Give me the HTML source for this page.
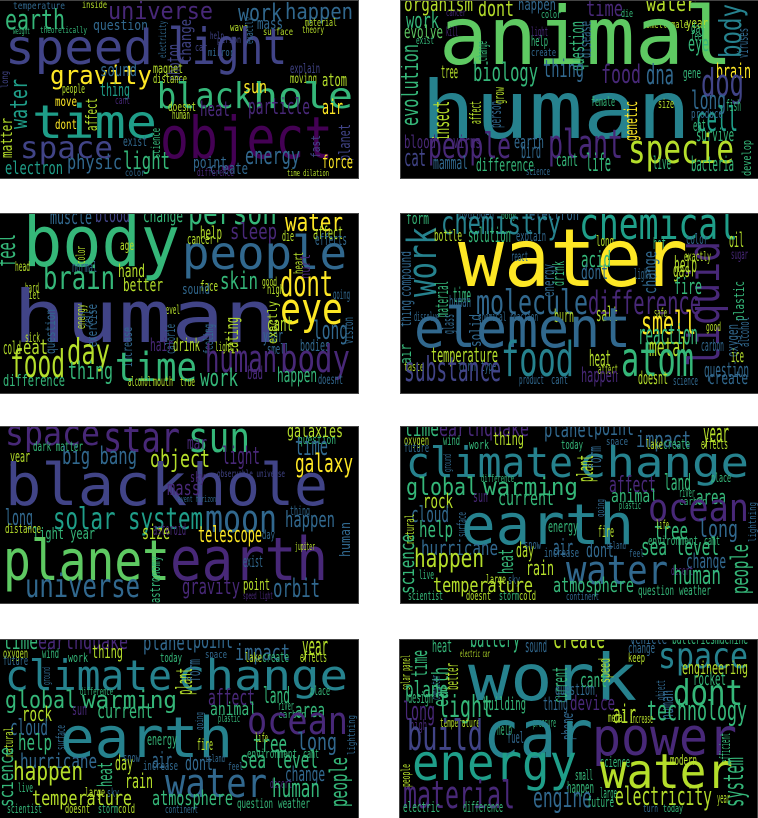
<!DOCTYPE html>
<html><head><meta charset="utf-8">
<style>
html,body{margin:0;padding:0;background:#fff;width:758px;height:818px;overflow:hidden}
svg.cloud{position:absolute;background:#000;outline:1px solid #444}
text{font-family:"DejaVu Sans Mono","Liberation Mono",monospace}
</style></head>
<body>
<svg class="cloud" id="p1" style="left:0;top:1px" width="358" height="177" viewBox="0 0 358 177"></svg>
<svg class="cloud" id="p2" style="left:401px;top:1px" width="357" height="177" viewBox="0 0 357 177"></svg>
<svg class="cloud" id="p3" style="left:0;top:214px" width="358" height="179" viewBox="0 0 358 179"></svg>
<svg class="cloud" id="p4" style="left:401px;top:214px" width="357" height="179" viewBox="0 0 357 179"></svg>
<svg class="cloud" id="p5" style="left:0;top:427px" width="358" height="176" viewBox="0 0 358 176"></svg>
<svg class="cloud" id="p6" style="left:401px;top:427px" width="357" height="176" viewBox="0 0 357 176"></svg>
<svg class="cloud" id="p7" style="left:0;top:640px" width="358" height="178" viewBox="0 0 358 178"></svg>
<svg class="cloud" id="p8" style="left:400px;top:640px" width="357" height="178" viewBox="0 0 357 178"></svg>
<script>
const palette = {P:"#440154",p:"#482878",i:"#414487",b:"#31688e",t:"#26828e",g:"#1f9e89",G:"#35b779",l:"#5ec962",y:"#b5de2b",Y:"#fde725"};
// [word, x, baseline, width, size, colourKey, vertical]
const words1 = [
["temperature",13,8,52,10,"b"],["inside",82,7,25,10,"y"],["earth",5,28,60,28,"G"],["universe",108,18,105,24,"p"],
["work",238,20,44,24,"b"],["happen",285,18,68,22,"b"],["question",93,29,55,14,"b"],["mass",257,28,26,16,"b"],
["weight",13,33,17,9,"G"],["theoretically",40,32,47,9,"G"],["material",305,25,32,11,"y"],["wave",230,30,18,11,"y"],
["surface",263,34,30,10,"y"],["theory",302,32,22,10,"y"],["help",210,38,14,10,"i"],["person",217,42,24,10,"i"],["car",195,50,12,11,"i"],["mirror",208,55,26,11,"b"],
["speed",5,63,148,48,"i"],["light",168,63,119,50,"i"],["change",191,62,44,16,"i",1],["photon",180,80,37,18,"i",1],
["electricity",166,57,37,10,"b",1],["exactly",253,43,27,11,"b",1],
["gravity",50,83,102,26,"Y"],["sound",100,75,37,18,"b"],["thing",100,95,30,18,"g"],["magnet",153,72,30,13,"y"],["distance",153,82,34,12,"y"],
["explain",290,72,30,13,"i"],["moving",290,82,27,13,"y"],["atom",322,85,25,18,"y"],["black",157,107,96,36,"G"],["hole",253,107,100,36,"G"],
["sun",243,92,24,18,"Y"],["people",62,92,23,12,"y"],["cant",115,103,15,11,"p"],["move",55,105,22,13,"Y"],["water",27,128,50,24,"g",1],
["long",8,87,17,10,"i",1],["heat",200,115,30,20,"p"],["particle",248,113,62,22,"p"],["air",322,113,21,20,"Y"],["doesnt",168,110,28,12,"y"],
["human",172,118,18,12,"y"],["time",32,137,125,46,"g"],["affect",97,130,33,16,"y",1],["dont",55,128,22,13,"Y"],["matter",12,157,40,16,"y",1],
["object",160,157,173,58,"P"],["exist",123,145,24,13,"b"],["science",160,157,30,12,"G",1],["fast",320,157,23,12,"i",1],["planet",350,160,37,16,"i",1],
["space",20,157,93,30,"i"],["physic",67,168,55,20,"b"],["light",123,168,47,24,"G"],["energy",245,163,55,24,"b"],["point",193,167,34,16,"b"],
["force",322,167,31,18,"Y"],["electron",5,173,58,18,"g"],["create",210,173,38,16,"b"],["difference",197,175,37,11,"p"],["color",125,175,20,10,"b"],["time dilation",287,175,42,9,"y"]
];
const words2 = [
["organism",3,10,69,20,"y"],["dont",77,15,36,22,"y"],["happen",117,9,38,16,"b"],["time",185,15,37,22,"p"],["water",245,10,50,22,"y"],
["cancer",45,15,20,10,"p"],["color",140,17,20,11,"G"],["smell male",245,27,42,11,"y"],["die",220,16,12,11,"G"],
["animal",38,63,294,80,"l"],["body",340,57,54,30,"t",1],["viruses",347,57,30,14,"b",1],["work",5,27,33,22,"G"],["evolve",3,37,39,18,"l"],
["kill",45,35,12,12,"p"],["exist",15,43,18,11,"G"],["year",285,27,22,14,"y"],["day",290,32,14,14,"G"],["feel",290,40,14,14,"G"],
["help",130,45,17,14,"G"],["light",130,35,17,12,"p"],["create",130,55,25,11,"b"],["eye",287,50,21,22,"G"],["question",183,70,50,20,"G",1],
["disease",190,57,37,16,"b",1],["change",86,60,20,14,"G",1],["biology",72,80,65,26,"G"],["thing",142,76,41,24,"b"],["food",200,82,40,26,"p"],
["dna",245,83,28,28,"b"],["brain",315,77,35,20,"Y"],["gene",282,77,18,14,"G"],["tree",40,77,17,18,"y"],["evolution",17,125,82,24,"G",1],
["dog",300,95,43,38,"i"],["long",290,108,35,26,"b"],["human",20,137,270,80,"t"],["cell",295,130,42,34,"g"],["fish",325,110,15,16,"G"],
["insect",48,140,40,22,"y",1],["affect",80,123,23,16,"y",1],["person",100,127,27,16,"b",1],["grow",103,103,17,14,"y",1],["genetic",236,140,40,18,"Y",1],
["female",190,105,24,12,"G"],["size",257,107,16,12,"y"],["produce",290,117,32,12,"b"],["survive",295,140,38,18,"G"],["eat",292,130,13,16,"G"],
["blood",3,147,32,18,"p"],["virus",52,147,28,18,"p"],["earth",113,147,30,18,"b"],["plant",147,157,75,40,"p"],["people",27,157,83,36,"p"],
["bird",120,157,20,20,"b"],["specie",227,162,106,40,"y"],["cat",3,165,22,24,"i"],["mammal",32,168,35,18,"b"],["difference",75,170,58,18,"G"],
["cant",155,165,22,18,"G"],["life",185,170,25,24,"G"],["live",252,168,18,18,"G"],["bacteria",290,170,43,20,"G"],["science",125,174,24,11,"b"],["develop",350,175,36,12,"G",1]
];
const words3 = [
["muscle",50,10,42,20,"b"],["blood",95,8,35,20,"i"],["change",143,8,40,18,"G"],["person",188,10,89,32,"G"],["water",285,17,58,26,"Y"],
["body",23,52,157,70,"G"],["people",182,55,165,46,"b"],["feel",15,53,33,26,"G",1],["sleep",230,25,47,22,"p"],["help",200,25,22,18,"y"],
["affect",313,25,30,18,"y"],["effects",315,31,32,16,"b"],["cancer",187,30,27,14,"y"],["die",282,27,12,14,"y"],["age",120,36,14,13,"y"],
["color",85,50,18,12,"y",1],["heart",303,60,22,13,"y",1],["hurt",310,65,25,14,"p",1],["head",15,57,15,13,"y"],["normal",72,58,25,14,"b"],
["brain",43,75,72,32,"G"],["hand",118,63,27,18,"y"],["better",123,77,40,18,"y"],["skin",220,75,38,24,"G"],["face",200,77,18,14,"y"],
["dont",280,82,53,36,"Y"],["sound",182,80,28,14,"b"],["high",267,80,17,13,"y"],["good",262,72,15,12,"y"],["going",333,85,17,13,"b"],
["diet",25,85,15,12,"y"],["hard",25,78,14,12,"y"],["level",162,100,18,12,"y"],["human",13,128,264,72,"i"],["eye",280,110,63,44,"Y"],
["long",313,125,35,26,"b"],["cant",267,117,26,20,"y"],["year",263,128,20,18,"b"],["cell",93,113,17,14,"b",1],["exercise",97,133,43,14,"b",1],
["energy",85,115,25,12,"y",1],["exactly",277,130,43,13,"y",1],["vision",353,130,27,13,"b",1],["eating",238,140,37,18,"y",1],["feeling",213,140,30,13,"b",1],
["calorie",175,140,30,13,"b",1],["increase",132,153,40,13,"b",1],["question",55,140,45,13,"b",1],["sick",25,128,15,13,"y"],["smell",267,140,22,14,"b"],
["hair",150,137,23,18,"p"],["drink",173,137,27,18,"y"],["bodies",300,137,30,16,"b"],["eat",23,140,25,20,"y"],["cold",3,140,18,18,"y"],
["day",67,150,43,36,"y"],["time",115,167,82,40,"G"],["food",10,163,55,38,"y"],["thing",68,165,45,24,"G"],["human",205,158,72,38,"p"],
["body",280,158,70,38,"p"],["work",200,172,38,24,"G"],["happen",277,168,40,20,"G"],["bad",247,165,16,18,"p"],["difference",3,172,62,16,"G"],
["alcohol",128,172,23,13,"y"],["mouth",153,172,20,13,"y"],["true",180,172,15,12,"y"],["doesnt",318,170,25,13,"b"],["light",215,137,18,12,"y"]
];
const words4 = [
["form",5,10,23,16,"G"],["hydrogen",58,5,35,14,"b"],["body",100,5,15,11,"G"],["electron",128,6,50,18,"b"],
["chemistry",40,20,120,32,"t"],["chemical",178,25,159,44,"g"],["work",35,83,70,40,"t",1],["bottle",33,27,28,16,"y"],
["solution",67,28,43,20,"G"],["explain",115,27,30,14,"b"],["long",195,32,18,14,"y"],["hot",252,35,13,16,"G"],["color",285,30,22,14,"b"],
["oil",328,33,15,20,"y"],["water",57,72,230,80,"Y"],["liquid",318,153,126,44,"p",1],["react",110,47,17,13,"b"],["exactly",283,47,27,13,"y"],
["sugar",330,45,17,13,"p"],["acid",180,53,30,22,"G"],["compound",10,83,46,16,"b",1],["material",47,103,36,18,"G",1],["energy",153,83,33,16,"b",1],
["drink",163,72,25,16,"G",1],["change",255,80,43,18,"b",1],["help",273,58,23,22,"y"],["gas",272,63,17,20,"y"],["light",233,65,17,14,"b"],
["dont",180,65,27,20,"b"],["fire",273,80,28,22,"G"],["plastic",343,107,40,14,"G",1],["time",52,88,18,20,"G"],["human",48,93,22,16,"b"],
["molecule",75,100,112,34,"b"],["difference",187,100,113,32,"p"],["thing",10,113,27,16,"b",1],["glass",53,120,20,16,"b",1],["solid",80,133,33,16,"b",1],
["dissolve",13,107,25,12,"b"],["chemical reaction",77,107,60,12,"b"],["burn",153,108,20,18,"y"],["salt",195,107,22,20,"y"],["safe",253,103,13,12,"y"],
["smell",240,120,55,32,"Y"],["good",305,117,15,12,"y"],["element",13,133,217,55,"b"],["reaction",237,130,60,28,"G"],["oxygen",337,143,33,16,"b",1],
["alcohol",348,133,30,14,"b",1],["metal",248,142,39,26,"y"],["carbon",300,137,23,16,"b"],["air",10,150,20,16,"G",1],["temperature",30,148,67,20,"y"],
["ice",330,148,13,18,"y"],["taste",3,157,20,12,"y"],["heat",188,152,22,22,"y"],["turn",57,157,18,14,"b"],["type",80,157,15,14,"b"],["affect",197,160,20,13,"y"],
["food",100,162,73,48,"t"],["atom",220,162,73,48,"G"],["question",303,163,45,20,"b"],["substance",3,167,97,34,"i"],["happen",180,168,37,20,"p"],
["product",118,170,25,12,"b"],["cant",150,170,17,12,"b"],["doesnt",237,170,30,18,"y"],["science",272,171,25,12,"b"],["create",307,170,40,18,"b"]
];
const words5 = [
["space",5,18,95,34,"p"],["star",103,25,77,42,"p"],["sun",188,25,62,42,"G"],["galaxies",287,10,56,18,"y"],["question",298,17,38,12,"G"],
["mar",187,22,20,18,"p"],["dark matter",33,24,50,13,"G"],["year",10,35,20,16,"y"],["big bang",62,37,75,24,"b"],["object",150,40,60,24,"y"],
["light",222,37,38,24,"p"],["time",295,28,33,26,"b"],["galaxy",295,45,58,26,"Y"],["black",5,78,182,58,"i"],["hole",192,78,136,58,"i"],
["sky",190,55,15,14,"p"],["observable universe",217,50,68,10,"i"],["mass",167,68,33,20,"p"],["event horizon",178,75,38,9,"b"],
["long",5,98,28,22,"b"],["solar system",53,102,150,30,"g"],["moon",205,105,72,38,"b"],["happen",285,100,50,22,"b"],["human",350,130,35,14,"b",1],
["thing",290,88,20,12,"b"],["distance",5,106,36,12,"y"],["light year",33,112,62,16,"G"],["size",142,112,28,20,"y"],["asteroid",153,108,33,16,"p"],
["telescope",198,115,64,22,"Y"],["planet",3,153,167,56,"l"],["earth",170,153,158,60,"p"],["exist",243,140,20,16,"b"],["astronomy",160,176,47,14,"G",1],
["universe",25,170,115,32,"b"],["gravity",182,167,58,22,"p"],["point",243,163,27,16,"y"],["orbit",273,170,47,26,"b"],["speed light",243,172,30,10,"p"],
["day",262,112,13,12,"b"],["jupiter",295,123,20,11,"y"]
];
const words6 = [
["time",3,9,35,22,"G"],["earthquake",38,9,90,22,"p"],["planet",143,10,50,22,"b"],["point",193,8,40,22,"b"],["impact",235,20,55,22,"b"],
["year",302,15,26,26,"y"],["thing",92,18,31,18,"y"],["oxygen",3,18,25,13,"y"],["wind",42,18,17,13,"G"],["future",3,25,25,12,"b"],["work",68,22,20,12,"G"],
["today",160,22,22,12,"G"],["space",205,18,22,11,"b"],["lake",245,22,17,13,"y"],["create",262,22,27,14,"G"],["effects",300,22,27,14,"y"],
["climate",5,50,167,42,"t"],["change",177,50,171,42,"t"],["plant",192,55,27,22,"y",1],["form",200,42,23,18,"b",1],["ground",50,45,18,11,"b",1],
["global",5,68,72,24,"G"],["warming",82,68,95,24,"G"],["difference",80,55,33,11,"G"],["affect",208,65,47,22,"p"],["land",263,63,27,22,"G"],
["place",310,55,20,12,"G"],["rock",22,81,30,20,"y"],["sun",72,75,15,16,"p"],["current",97,78,56,20,"G"],["animal",210,75,47,18,"G"],
["river",278,70,16,12,"G"],["area",295,77,30,20,"G"],["carbon",278,78,28,11,"G"],["going",203,90,18,11,"b",1],["plastic",218,82,22,11,"G"],
["ocean",247,94,101,38,"p"],["cloud",10,95,38,22,"b"],["surface",65,110,25,12,"b",1],["earth",60,117,173,56,"t"],["help",18,110,34,22,"G"],
["energy",147,105,30,16,"G"],["fire",197,110,16,16,"y"],["tree",253,112,34,24,"G"],["long",297,110,40,24,"b"],["life",255,102,13,12,"y"],
["environment",247,118,50,12,"G"],["cant",303,118,16,12,"G"],["natural",13,117,30,12,"y",1],["lightning",355,115,40,11,"b",1],
["hurricane",20,128,77,20,"b"],["air",152,128,20,22,"b"],["dont",185,130,28,20,"b"],["sea level",240,128,78,24,"G"],["snow",123,122,17,12,"b"],
["increase",143,130,35,12,"b"],["island",205,122,20,11,"b"],["heat",112,147,25,20,"G",1],["day",115,130,18,20,"y"],["feel",228,130,15,11,"b"],
["happen",13,140,70,26,"y"],["people",347,167,50,24,"G",1],["rain",125,148,28,20,"y"],["change",285,141,40,20,"b"],["science",13,167,60,20,"G",1],
["live",18,152,15,12,"G"],["large",85,157,20,13,"y"],["sky",107,157,12,12,"b"],["desert",270,148,22,12,"p"],["water",165,157,102,40,"b"],
["human",272,157,48,26,"G"],["temperature",32,165,100,20,"y"],["atmosphere",152,165,81,20,"G"],["question",237,168,36,13,"G"],["weather",278,168,32,13,"G"],
["scientist",7,173,35,12,"G"],["doesnt",65,173,25,12,"y"],["storm",98,173,20,12,"G"],["cold",118,173,17,12,"y"],["continent",165,173,33,11,"b"]
];
const words8 = [
["heat",32,12,20,18,"G"],["battery",70,7,50,26,"G"],["sound",125,12,22,18,"b"],["create",153,8,52,26,"y"],["vehicle",230,4,37,15,"b"],
["batteries",272,4,43,15,"G"],["machine",315,4,33,15,"G"],["electric car",60,17,30,10,"y"],["change",228,13,27,14,"b"],["keep",228,22,17,12,"y"],
["work",68,60,169,64,"t"],["space",258,28,90,36,"t"],["time",27,37,27,22,"G",1],["earth",48,67,40,22,"G",1],["better",58,50,27,18,"y",1],
["current",167,63,36,20,"G",1],["speed",210,43,25,16,"y",1],["engineering",282,34,66,18,"y"],["rocket",293,45,33,18,"G"],["cant",180,47,27,20,"G"],
["computer",40,60,25,12,"b",1],["solar panel",10,50,35,12,"y",1],["plane",5,57,43,22,"G"],["question",155,55,40,16,"b"],["design",8,63,25,16,"G"],
["dont",273,65,70,36,"G"],["object",265,60,20,12,"b",1],["human",273,80,30,18,"b",1],["building",83,70,43,18,"G"],["thing",143,70,25,18,"b"],
["device",170,70,45,20,"p"],["long",3,80,32,26,"p"],["light",38,77,55,30,"G"],["air",213,83,23,26,"y"],["technology",247,80,100,28,"G"],
["metal",208,82,18,13,"y"],["increase",230,83,23,12,"y"],["temperature",40,87,40,12,"y"],["pressure",133,87,23,12,"G"],["high",10,90,17,14,"p"],
["phone",173,100,27,16,"b",1],["help",97,95,15,16,"G"],["fuel",107,103,17,16,"b"],["build",7,110,76,42,"i"],["car",83,117,110,66,"t"],
["power",192,115,145,52,"p"],["efficient",330,123,30,14,"G",1],["science",200,127,30,14,"G"],["modern",270,125,27,14,"y"],["energy",12,140,165,50,"g"],
["small",175,140,18,14,"G"],["water",200,148,133,48,"y"],["people",10,147,23,12,"y",1],["happen",167,153,27,16,"G"],["large",200,158,17,14,"G"],
["material",3,168,112,38,"p"],["engine",133,167,59,28,"b"],["electricity",215,165,97,26,"y"],["system",343,167,50,28,"G",1],["future",187,167,27,14,"G"],
["year",317,163,13,14,"y"],["electric",3,172,37,14,"G"],["difference",63,172,40,14,"G"],["today",263,172,20,11,"G"],["turn",243,172,15,11,"b"]
];
const panels = [["p1",words1],["p2",words2],["p3",words3],["p4",words4],["p5",words5],["p6",words6],["p7",words6],["p8",words8]];
const NS = "http://www.w3.org/2000/svg";
for (const [id, list] of panels) {
  const svg = document.getElementById(id);
  for (const w of list) {
    const t = document.createElementNS(NS, "text");
    
    
    t.setAttribute("x", w[1]);
    t.setAttribute("y", w[2]);
    t.setAttribute("textLength", w[3]);
    t.setAttribute("lengthAdjust", "spacingAndGlyphs");
    t.setAttribute("font-size", w[4]);
    t.setAttribute("fill", palette[w[5]]);
    if (w[6]) t.setAttribute("transform", "rotate(-90 " + w[1] + " " + w[2] + ")");
    t.textContent = w[0];
    svg.appendChild(t);
  }
}
</script>
</body></html>
